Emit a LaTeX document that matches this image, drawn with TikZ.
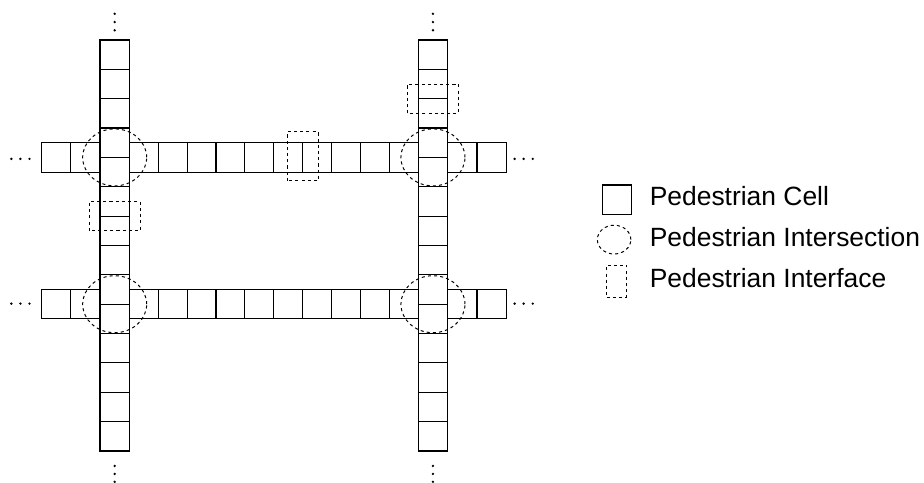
\documentclass[tikz,border=0pt]{standalone}
\usepackage{fontspec}
\setmainfont{Liberation Sans}
\usetikzlibrary{shapes.geometric,positioning}

\tikzset{
  cell/.style={draw=black, line width=1.1pt},
  crossing/.style={draw=black, dashed, line width=0.95pt},
  iface/.style={draw=black, dashed, line width=0.95pt},
  keytext/.style={anchor=base west, inner sep=0pt},
}

\begin{document}
\begin{tikzpicture}[font=\fontsize{25.6}{30}\selectfont]

\useasboundingbox (-3.406,-1.056) rectangle (28.065,15.361);

% Horizontal walkways
\foreach \y in {4.5, 9.5} {
  \foreach \x in {-2, -1, 11.84, 12.84}
    \draw[cell] (\x,\y) rectangle ++(1,1);
  \foreach \i in {0,...,9}
    \draw[cell] ({1+0.984*\i},\y) rectangle ++(0.984,1);
}

% Vertical walkways
\foreach \x in {0, 10.84}
  \foreach \j in {0,...,13}
    \draw[cell] (\x,\j) rectangle ++(1,1);

% Intersections
\foreach \x/\y in {0.5/10, 0.5/5, 11.34/10, 11.34/5}
  \draw[crossing] (\x,\y) ellipse (1.09 and 0.97);

% Interfaces
\draw[iface] (-0.365,7.5) rectangle (1.365,8.5);
\draw[iface] (10.475,11.5) rectangle (12.205,12.5);
\draw[iface] (6.38,9.2) rectangle (7.43,10.87);

% Walkways go on
\foreach \x in {0.5, 11.34}
  \foreach \y in {14.33, 14.61, 14.89, -0.51, -0.78, -1.05}
    \fill (\x,\y) circle (0.045);
\foreach \y in {9.95, 5.02}
  \foreach \x in {-3.02, -2.71, -2.40, 14.12, 14.43, 14.74}
    \fill (\x,\y) circle (0.045);

% Legend
\node[cell, minimum size=1cm, inner sep=0pt] (keycell) at (17.6,8.56) {};
\node[crossing, ellipse, minimum width=1.14cm, minimum height=0.98cm,
      inner sep=0pt] (keycross) at (17.51,7.2) {};
\node[iface, minimum width=0.68cm, minimum height=1.09cm,
      inner sep=0pt] (keyiface) at (17.6,5.79) {};

\node[keytext] (celltext) at (18.72,8.345) {Pedestrian Cell};
\node[keytext] (crosstext) at (18.72,6.96) {Pedestrian Intersection};
\node[keytext] (ifacetext) at (18.72,5.575) {Pedestrian Interface};

\end{tikzpicture}
\end{document}
